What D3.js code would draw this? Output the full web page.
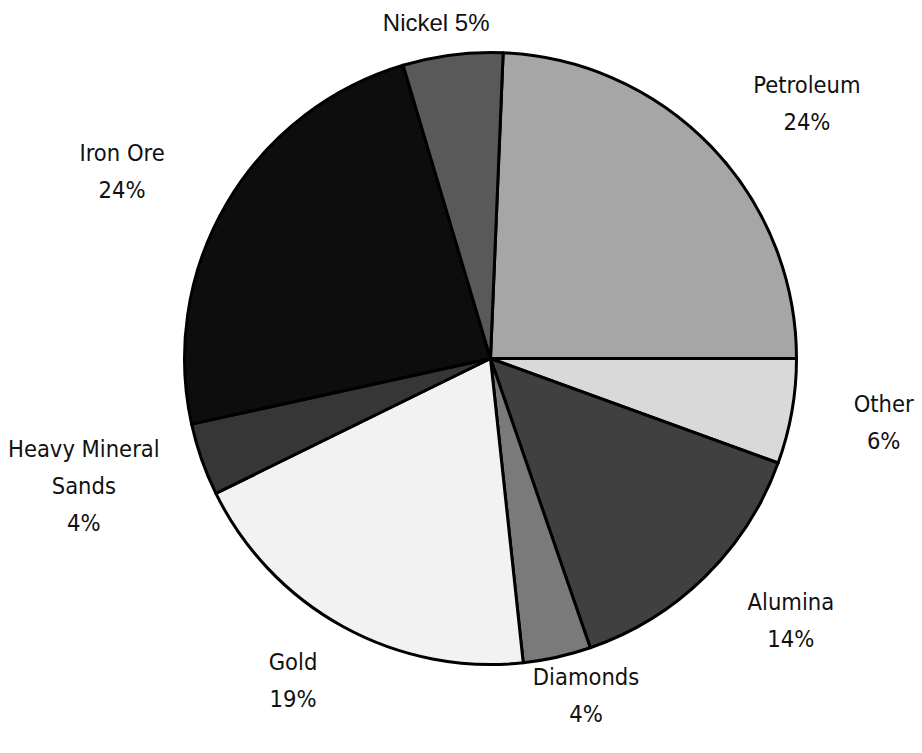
<!DOCTYPE html>
<html>
<head>
<meta charset="utf-8">
<script src="https://cdn.jsdelivr.net/npm/d3@7"></script>
<style>
  html, body { margin: 0; padding: 0; background: #fff; }
  svg { display: block; }
  text { font-family: "DejaVu Sans Condensed", "DejaVu Sans", sans-serif; font-size: 23.5px; fill: #111; }
  text.arial { font-family: "Liberation Sans", Arial, sans-serif; font-size: 24px; }
</style>
</head>
<body>
<svg id="chart" width="922" height="753"></svg>
<script>
// ---- data ----
const categories = ["Petroleum", "Other", "Alumina", "Diamonds", "Gold", "Heavy Mineral Sands", "Iron Ore", "Nickel"];
const shares = [24.34, 5.55, 14.17, 3.58, 19.44, 3.83, 23.83, 5.27];
const labelLines = [["Petroleum"], ["Other"], ["Alumina"], ["Diamonds"], ["Gold"], ["Heavy Mineral", "Sands"], ["Iron Ore"], ["Nickel"]];
const inlinePercent = ["Nickel"];
const colors = ["#a6a6a6", "#d9d9d9", "#404040", "#7a7a7a", "#f2f2f2", "#363636", "#0d0d0d", "#595959"];

// ---- layout ----
const width = 922, height = 753;
const cx = 490.5, cy = 358.5, radius = 306;
const firstSliceAngle = 2.37 * Math.PI / 180;
const labelRx = 385, labelRy = 340;   // label ellipse (outside the pie)
const lineHeight = 37;
const margin = { top: 13, bottom: 30, left: 8, right: 8 };

const svg = d3.select("#chart");
const g = svg.append("g").attr("transform", `translate(${cx},${cy})`);

const data = categories.map((c, i) => ({ name: c, value: shares[i], lines: labelLines[i], color: colors[i] }));

const pie = d3.pie().sort(null).value(d => d.value)
  .startAngle(firstSliceAngle).endAngle(firstSliceAngle + 2 * Math.PI);
const arcs = pie(data);
const arc = d3.arc().innerRadius(0).outerRadius(radius);

g.selectAll("path.slice").data(arcs).join("path")
  .attr("class", "slice")
  .attr("d", arc)
  .attr("fill", d => d.data.color)
  .attr("stroke", "#000")
  .attr("stroke-width", 3)
  .attr("stroke-linejoin", "round");

const total = d3.sum(shares);
const fmt = v => Math.round(v / total * 100) + "%";

arcs.forEach(a => {
  const d = a.data;
  const inline = inlinePercent.includes(d.name);
  let lines = d.lines.slice();
  if (inline) lines[lines.length - 1] += " " + fmt(d.value);
  else lines.push(fmt(d.value));
  const lg = g.append("g");
  const t = lg.append("text").attr("text-anchor", "middle").classed("arial", inline);
  lines.forEach((ln, i) => t.append("tspan").attr("x", 0).attr("y", i * lineHeight).text(ln));
  const bb = t.node().getBBox();
  const w = bb.width, h = bb.height - 9;
  const mid = (a.startAngle + a.endAngle) / 2;
  const ux = Math.sin(mid), uy = -Math.cos(mid);
  let px = ux * (labelRx + w / 2);
  let py = uy * (labelRy + h / 2);
  // keep label inside the canvas
  px = Math.max(margin.left - cx + w / 2, Math.min(width - margin.right - cx - w / 2, px));
  py = Math.max(margin.top - cy + h / 2, Math.min(height - margin.bottom - cy - h / 2, py));
  const bx = bb.x + bb.width / 2, by = bb.y + bb.height / 2;
  lg.attr("transform", `translate(${px - bx},${py - by})`);
});
</script>
</body>
</html>
